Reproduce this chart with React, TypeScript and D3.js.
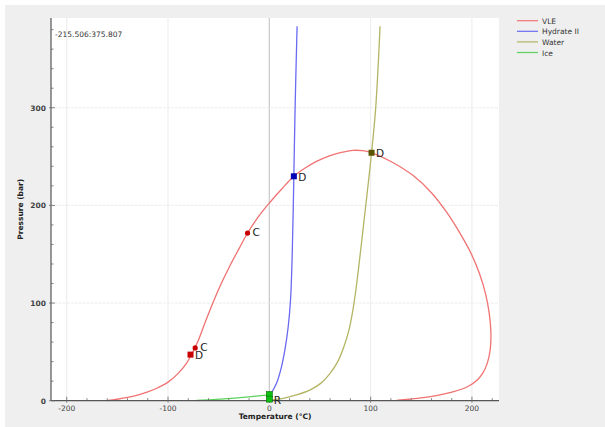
import React from "react";
import * as d3 from "d3";

// Phase envelope data: [temperature °C, pressure bar]
const vle: [number, number][] = [
  [-160.7, 0], [-150, 1.5], [-140, 3.3], [-130, 5.8], [-120, 9], [-110, 13.3],
  [-100, 19], [-90, 28], [-82, 38], [-76, 49], [-70, 62], [-62, 84], [-54, 104.5],
  [-47, 121], [-39, 138], [-30, 155.5], [-21.5, 171.7], [-10, 189.5], [0.5, 203],
  [12, 216.5], [24.2, 229.8], [35, 238], [46.6, 245], [60, 251], [70, 254],
  [82.7, 256.4], [92, 256], [100.9, 253.9], [120, 245], [142, 230.5], [160, 213],
  [175, 193], [189, 170], [199.5, 150], [207.5, 130], [213.3, 110], [217, 90],
  [218.7, 70], [218, 52], [215, 38], [210.5, 28], [205, 21], [196, 14.5],
  [182, 9.2], [166, 5.5], [152, 3.1], [138, 1.5], [125.6, 0.4],
];
const hydrate: [number, number][] = [
  [0.5, 5.8], [4, 11.5], [7.1, 17.8], [12, 34.7], [15.3, 51.7], [18.6, 75.5],
  [20.9, 102.8], [22.6, 150], [24.2, 229.8], [25.4, 298], [27.4, 383.4],
];
const water: [number, number][] = [
  [1, 0.6], [13.6, 2.4], [25, 5.5], [40, 10.9], [51, 18], [60, 28], [67.5, 40],
  [73.5, 55], [78.5, 72], [82, 90], [85, 110], [88, 135], [90.8, 160],
  [95.2, 200], [100.9, 253.9], [105, 300], [109.3, 383.4],
];
const ice: [number, number][] = [
  [-72, 0.2], [-52, 1.4], [-25.9, 3.4], [0, 6],
];

// Marked points: [T, P, label, shape, series]
const markers: [number, number, string, string, string][] = [
  [-77.8, 47.2, "D", "square", "VLE"],
  [-73.2, 54, "C", "circle", "VLE"],
  [-21.5, 171.7, "C", "circle", "VLE"],
  [24.2, 229.8, "D", "square", "Hydrate II"],
  [100.9, 253.9, "D", "square", "Water"],
  [0, 6.3, "", "square", "Ice"],
  [0, 1.6, "R", "square", "Ice"],
];

const seriesNames = ["VLE", "Hydrate II", "Water", "Ice"];
const lineColors: Record<string, string> = {
  VLE: "#f07272",
  "Hydrate II": "#6a6af2",
  Water: "#b4b464",
  Ice: "#5cd25c",
};
const markerColors: Record<string, string> = {
  VLE: "#c80000",
  "Hydrate II": "#0000b4",
  Water: "#5a5400",
  Ice: "#10c010",
};

const xTicks = [-200, -100, 0, 100, 200];
const yTicks = [0, 100, 200, 300];
const xMinor = d3.range(-200, 221, 20);
const yMinor = d3.range(0, 391, 20);

const W = 605;
const H = 427;
const left = 51;
const right = 499;
const top = 18;
const bottom = 400.7;

export default function App() {
  const x = d3.scaleLinear().domain([-215.506, 226.7]).range([left, right]);
  const y = d3.scaleLinear().domain([0, 391.9]).range([bottom, top]);
  const line = d3
    .line<[number, number]>()
    .x((d) => x(d[0]))
    .y((d) => y(d[1]))
    .curve(d3.curveCatmullRom.alpha(0.5));

  const font = "DejaVu Sans, Verdana, sans-serif";
  const data: Record<string, [number, number][]> = {
    VLE: vle,
    "Hydrate II": hydrate,
    Water: water,
    Ice: ice,
  };

  return (
    <svg
      width={W}
      height={H}
      style={{ position: "absolute", left: 0, top: 0 }}
      fontFamily={font}
    >
      <rect x={0} y={0} width={W} height={H} fill="#ffffff" />
      <rect x={5} y={5} width={W - 5} height={H - 5} fill="#efefef" />
      <rect x={left} y={top} width={right - left} height={bottom - top} fill="#ffffff" />

      {/* grid */}
      {xTicks.map((t) => (
        <line
          key={"gx" + t}
          x1={x(t)}
          x2={x(t)}
          y1={top}
          y2={bottom}
          stroke={t === 0 ? "#c8c8c8" : "#e6e6e6"}
          strokeWidth={t === 0 ? 1.2 : 0.8}
        />
      ))}
      {yTicks.filter((t) => t > 0).map((t) => (
        <line
          key={"gy" + t}
          x1={left}
          x2={right}
          y1={y(t)}
          y2={y(t)}
          stroke="#e8e8e8"
          strokeWidth={0.8}
          strokeDasharray="3,1"
        />
      ))}

      {/* curves */}
      {seriesNames.map((s) => (
        <path
          key={s}
          d={line(data[s]) || ""}
          fill="none"
          stroke={lineColors[s]}
          strokeWidth={1.3}
        />
      ))}

      {/* axes */}
      <line x1={left} x2={left} y1={top} y2={bottom} stroke="#555" strokeWidth={1.2} />
      <line x1={left} x2={right} y1={bottom} y2={bottom} stroke="#555" strokeWidth={1.2} />
      {xMinor.map((t) => (
        <line key={"xm" + t} x1={x(t)} x2={x(t)} y1={bottom} y2={bottom - (t % 100 === 0 ? 4 : 2.5)} stroke="#666" strokeWidth={0.8} />
      ))}
      {xTicks.map((t) => (
        <line key={"xt" + t} x1={x(t)} x2={x(t)} y1={bottom} y2={bottom + 2} stroke="#666" strokeWidth={0.8} />
      ))}
      {yMinor.map((t) => (
        <line key={"ym" + t} x1={left} x2={left + (t % 100 === 0 ? 4 : 2.5)} y1={y(t)} y2={y(t)} stroke="#666" strokeWidth={0.8} />
      ))}
      {yTicks.map((t) => (
        <line key={"yt" + t} x1={left - 2} x2={left} y1={y(t)} y2={y(t)} stroke="#666" strokeWidth={0.8} />
      ))}
      {xTicks.map((t) => (
        <text key={"xl" + t} x={x(t)} y={bottom + 10} fontSize={7.5} fill="#444" textAnchor="middle">
          {t}
        </text>
      ))}
      {yTicks.map((t) => (
        <text key={"yl" + t} x={left - 5} y={y(t) + 3} fontSize={7.5} fill="#444" textAnchor="end" fontWeight="bold">
          {t}
        </text>
      ))}
      <text x={(left + right) / 2} y={419} fontSize={7.5} fontWeight="bold" fill="#222" textAnchor="middle">
        Temperature (°C)
      </text>
      <text
        transform={`translate(23,${(top + bottom) / 2}) rotate(-90)`}
        fontSize={7.5}
        fontWeight="bold"
        fill="#222"
        textAnchor="middle"
      >
        Pressure (bar)
      </text>
      <text x={55} y={36.5} fontSize={7.5} fill="#333">
        -215.506:375.807
      </text>

      {/* markers */}
      {markers.map(([t, p, lab, shape, s], i) => (
        <g key={"m" + i}>
          {shape === "square" ? (
            <rect
              x={x(t) - 3}
              y={y(p) - 3}
              width={6}
              height={6}
              fill={markerColors[s]}
              stroke={s === "Ice" ? "#087008" : "none"}
              strokeWidth={0.6}
            />
          ) : (
            <circle cx={x(t)} cy={y(p)} r={2.6} fill={markerColors[s]} />
          )}
          {lab && (
            <text
              x={x(t) + (lab === "C" ? 5 : 4.5)}
              y={y(p) + (lab === "C" ? 3 : 4.5)}
              fontSize={10.5}
              fill="#222"
            >
              {lab}
            </text>
          )}
        </g>
      ))}

      {/* legend */}
      {seriesNames.map((s, i) => (
        <g key={"lg" + s} transform={`translate(517,${20.7 + i * 10.6})`}>
          <line x1={0} x2={21} y1={0} y2={0} stroke={lineColors[s]} strokeWidth={1.2} />
          <text x={25} y={3} fontSize={7.5} fill="#333">
            {s}
          </text>
        </g>
      ))}
    </svg>
  );
}
